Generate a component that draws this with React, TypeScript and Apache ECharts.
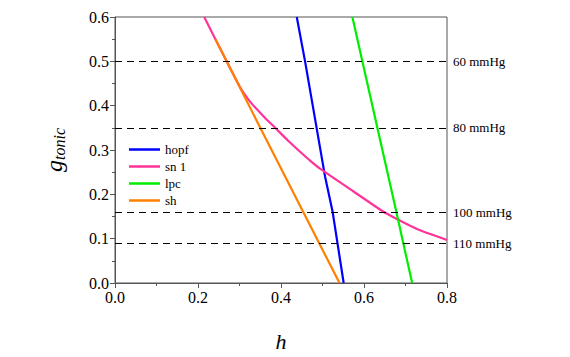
import React, { useEffect, useRef } from "react";
import * as echarts from "echarts";

const SERIF = "Liberation Serif";

const hopfData: [number, number][] = [
  [0.438, 0.6], [0.458, 0.5], [0.506, 0.241], [0.5245, 0.16], [0.551, 0.0],
];
const sn1Data: [number, number][] = [
  [0.215, 0.6], [0.269, 0.5], [0.3, 0.444], [0.315, 0.422], [0.33, 0.404],
  [0.36, 0.374], [0.386, 0.35], [0.416, 0.322], [0.446, 0.296], [0.47, 0.276],
  [0.494, 0.258], [0.574, 0.207], [0.643, 0.163], [0.68, 0.144],
  [0.735, 0.119], [0.8, 0.097],
];
const lpcData: [number, number][] = [
  [0.572, 0.6], [0.596, 0.5], [0.678, 0.16], [0.716, 0.0],
];
const shData: [number, number][] = [
  [0.242, 0.55], [0.269, 0.5], [0.35, 0.35], [0.541, 0.0],
];
const pressureLevels = [0.5, 0.35, 0.16, 0.09];
const pressureLabels = ["60 mmHg", "80 mmHg", "100 mmHg", "110 mmHg"];

export default function App() {
  const ref = useRef<HTMLDivElement>(null);
  useEffect(() => {
    if (!ref.current) return;
    const chart = echarts.init(ref.current, null, { renderer: "svg" });
    const lineSeries = (name: string, data: [number, number][], color: string, extra: any = {}) => ({
      name,
      type: "line",
      data,
      xAxisIndex: 0,
      yAxisIndex: 0,
      showSymbol: false,
      symbol: "none",
      lineStyle: { color, width: 2.2 },
      itemStyle: { color },
      ...extra,
    });
    const labelAxisCommon = {
      type: "value",
      axisLine: { show: false },
      axisTick: { show: false },
      splitLine: { show: false },
    };
    chart.setOption({
      animation: false,
      backgroundColor: "#fff",
      grid: { left: 115, right: 123, top: 17, bottom: 72, show: true, borderColor: "#555", borderWidth: 1 },
      legend: {
        orient: "vertical",
        left: 124,
        top: 138,
        itemWidth: 31,
        itemHeight: 2.5,
        itemGap: 4,
        icon: "rect",
        textStyle: { fontFamily: SERIF, fontSize: 13, color: "#000" },
        data: ["hopf", "sn 1", "lpc", "sh"],
      },
      xAxis: [
        {
          type: "value",
          position: "bottom",
          min: 0,
          max: 0.8,
          interval: 0.2,
          name: "h",
          nameLocation: "middle",
          nameGap: 47,
          nameTextStyle: { fontFamily: SERIF, fontSize: 22, fontStyle: "italic", color: "#000" },
          axisLine: { show: true, lineStyle: { color: "#555", width: 1 } },
          axisTick: { show: true, length: 5, lineStyle: { color: "#555" } },
          minorTick: { show: true, splitNumber: 2, length: 3, lineStyle: { color: "#555" } },
          splitLine: { show: false },
          axisLabel: { show: false },
        },
        {
          ...labelAxisCommon,
          position: "bottom",
          min: 0,
          max: 0.8,
          interval: 0.2,
          axisLabel: {
            show: true,
            fontSize: 16,
            color: "#000",
            fontFamily: SERIF,
            margin: 6,
            formatter: (v: number) => Number(v).toFixed(1),
          },
        },
      ],
      yAxis: [
        {
          type: "value",
          position: "left",
          min: 0,
          max: 0.6,
          interval: 0.1,
          name: "{g|g}{s|tonic}",
          nameLocation: "middle",
          nameRotate: 90,
          nameGap: 48,
          nameTextStyle: {
            color: "#000",
            rich: {
              g: { fontFamily: SERIF, fontSize: 24, fontStyle: "italic", color: "#000" },
              s: { fontFamily: SERIF, fontSize: 16, fontStyle: "italic", color: "#000", padding: [10, 0, 0, 0] },
            },
          },
          axisLine: { show: true, lineStyle: { color: "#555", width: 1 } },
          axisTick: { show: true, length: 5, lineStyle: { color: "#555" } },
          minorTick: { show: true, splitNumber: 2, length: 3, lineStyle: { color: "#555" } },
          splitLine: { show: false },
          axisLabel: { show: false },
        },
        {
          ...labelAxisCommon,
          position: "left",
          min: 0,
          max: 0.6,
          interval: 0.1,
          axisLabel: {
            show: true,
            fontSize: 16,
            color: "#000",
            fontFamily: SERIF,
            margin: 6,
            formatter: (v: number) => Number(v).toFixed(1),
          },
        },
      ],
      series: [
        lineSeries("hopf", hopfData, "#0000ff"),
        lineSeries("sn 1", sn1Data, "#ff3399", { smooth: 0.15 }),
        lineSeries("lpc", lpcData, "#00ee00"),
        lineSeries("sh", shData, "#ff8000", {
          markLine: {
            silent: true,
            symbol: "none",
            lineStyle: { color: "#000", type: [7, 5], width: 1.2 },
            label: {
              show: true,
              position: "end",
              distance: 6,
              fontFamily: SERIF,
              fontSize: 13,
              color: "#000",
              formatter: (p: any) => pressureLabels[p.dataIndex],
            },
            data: pressureLevels.map((v) => ({ yAxis: v })),
          },
        }),
      ],
    });
    return () => chart.dispose();
  }, []);
  return (
    <div
      ref={ref}
      style={{ position: "absolute", left: 0, top: 0, width: 570, height: 357 }}
    />
  );
}
